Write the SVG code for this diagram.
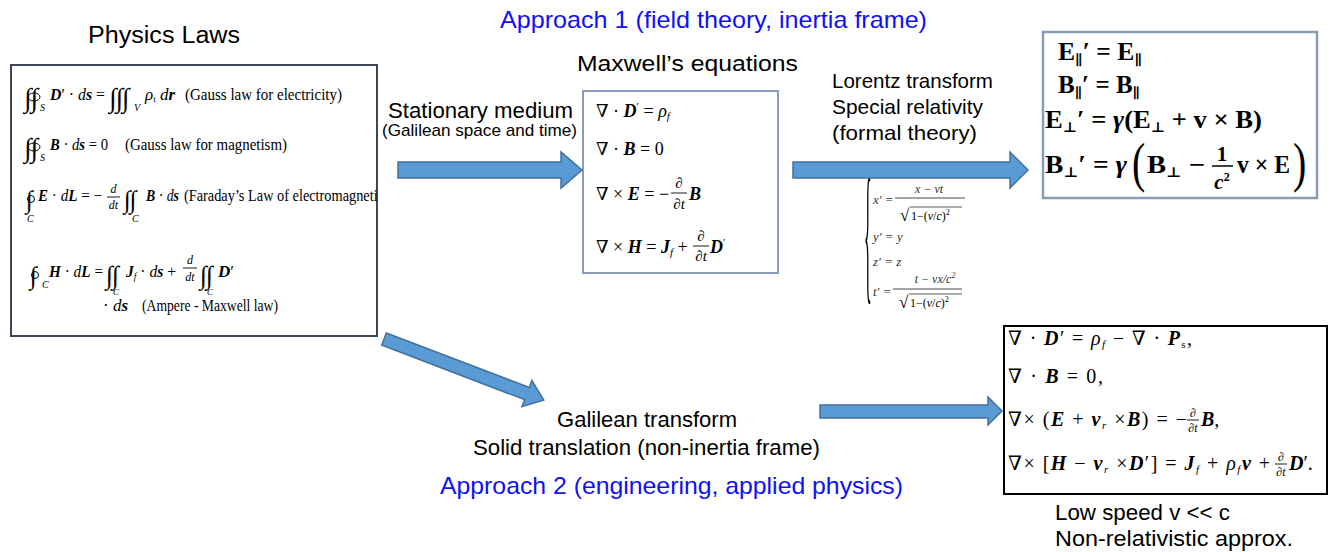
<svg xmlns="http://www.w3.org/2000/svg" width="1332" height="552" viewBox="0 0 1332 552">
<defs>
<style>
.lbl{font-family:"Liberation Sans",Arial,sans-serif;fill:#000}
.blue{fill:#1010f5}
.m{font-family:"Liberation Serif","Times New Roman","DejaVu Serif",serif;fill:#000}
.ig{font-family:"Liberation Serif","Times New Roman","DejaVu Serif",serif;fill:#000;font-style:italic;letter-spacing:-1px}
.ring{fill:none;stroke:#000;stroke-width:1}
.bi{font-weight:bold;font-style:italic}
.it{font-style:italic}
.b{font-weight:bold}
.arrow{fill:#5b9bd5;stroke:#41719c;stroke-width:1.5}
.bar{stroke:#000;stroke-width:0.9}
.lz{font-family:"Liberation Serif","DejaVu Serif",serif;fill:#333;font-style:italic}
</style>
<clipPath id="clipL"><rect x="12" y="66" width="365" height="270"/></clipPath>
</defs>
<rect width="1332" height="552" fill="#fff"/>

<text class="lbl blue" x="500" y="28" font-size="24" textLength="427" lengthAdjust="spacingAndGlyphs">Approach 1 (field theory, inertia frame)</text>
<text class="lbl blue" x="440" y="494" font-size="24" textLength="463" lengthAdjust="spacingAndGlyphs">Approach 2 (engineering, applied physics)</text>

<g id="physics-laws">
<text class="lbl" x="88" y="43" font-size="23" textLength="152" lengthAdjust="spacingAndGlyphs">Physics Laws</text>
<rect x="11" y="65" width="366" height="271" fill="#fff" stroke="#3d4655" stroke-width="2"/>
<g clip-path="url(#clipL)">
<text class="ig" x="24" y="107" font-size="27">∫∫</text>
<ellipse class="ring" cx="34" cy="97" rx="6" ry="4"/>
<text class="m it" x="40" y="111" font-size="10">S</text>
<text class="m" x="50" y="100" font-size="17" textLength="55" lengthAdjust="spacingAndGlyphs"><tspan class="bi">D</tspan>′ · <tspan class="it">d</tspan><tspan class="bi">s</tspan> =</text>
<text class="ig" x="109" y="107" font-size="27">∫∫∫</text>
<text class="m it" x="134" y="111" font-size="10">V</text>
<text class="m" x="145" y="100" font-size="17"><tspan class="it">ρ</tspan><tspan font-size="9" dy="2">t</tspan><tspan dy="-2"> </tspan><tspan class="it">d</tspan><tspan class="bi">r</tspan></text>
<text class="m" x="185" y="100" font-size="17" textLength="157" lengthAdjust="spacingAndGlyphs">(Gauss law for electricity)</text>

<text class="ig" x="24" y="157" font-size="27">∫∫</text>
<ellipse class="ring" cx="34" cy="147" rx="6" ry="4"/>
<text class="m it" x="40" y="161" font-size="10">S</text>
<text class="m" x="50" y="150" font-size="17" textLength="58" lengthAdjust="spacingAndGlyphs"><tspan class="bi">B</tspan> · <tspan class="it">d</tspan><tspan class="bi">s</tspan> = 0</text>
<text class="m" x="125" y="150" font-size="17" textLength="162" lengthAdjust="spacingAndGlyphs">(Gauss law for magnetism)</text>

<text class="ig" x="26" y="208" font-size="25">∫</text>
<circle class="ring" cx="31" cy="199" r="3.5"/>
<text class="m it" x="27" y="222" font-size="10">C</text>
<text class="m" x="38" y="201" font-size="17" textLength="64" lengthAdjust="spacingAndGlyphs"><tspan class="bi">E</tspan> · <tspan class="it">d</tspan><tspan class="bi">L</tspan> = −</text>
<text class="m it" x="113.5" y="193" font-size="12" text-anchor="middle">d</text>
<line class="bar" x1="107" y1="197" x2="120" y2="197"/>
<text class="m it" x="113.5" y="209" font-size="12" text-anchor="middle">dt</text>
<text class="ig" x="124" y="208" font-size="25">∫∫</text>
<text class="m it" x="132" y="222" font-size="10">C</text>
<text class="m" x="146" y="201" font-size="17" textLength="33" lengthAdjust="spacingAndGlyphs"><tspan class="bi">B</tspan> · <tspan class="it">d</tspan><tspan class="bi">s</tspan></text>
<text class="m" x="184" y="201" font-size="17" textLength="200" lengthAdjust="spacingAndGlyphs">(Faraday’s Law of electromagnetic</text>

<text class="ig" x="30" y="284" font-size="25">∫</text>
<circle class="ring" cx="35" cy="275" r="3.5"/>
<text class="m it" x="42" y="288" font-size="10">C</text>
<text class="m" x="49" y="277" font-size="17" textLength="54" lengthAdjust="spacingAndGlyphs"><tspan class="bi">H</tspan> · <tspan class="it">d</tspan><tspan class="bi">L</tspan> =</text>
<text class="ig" x="106" y="284" font-size="26">∫∫</text>
<text class="m it" x="113" y="295" font-size="9">C</text>
<text class="m" x="126" y="277" font-size="17" textLength="50" lengthAdjust="spacingAndGlyphs"><tspan class="bi">J</tspan><tspan class="it" font-size="10" dy="3">f</tspan><tspan dy="-3"> · </tspan><tspan class="it">d</tspan><tspan class="bi">s</tspan> +</text>
<text class="m it" x="190" y="264" font-size="12" text-anchor="middle">d</text>
<line class="bar" x1="183" y1="268" x2="197" y2="268"/>
<text class="m it" x="190" y="281" font-size="12" text-anchor="middle">dt</text>
<text class="ig" x="200" y="284" font-size="26">∫∫</text>
<text class="m it" x="207" y="295" font-size="9">C</text>
<text class="m" x="218" y="277" font-size="17"><tspan class="bi">D</tspan>′</text>

<text class="m" x="103" y="311" font-size="17">· <tspan class="it">d</tspan><tspan class="bi">s</tspan></text>
<text class="m" x="142" y="311" font-size="17" textLength="136" lengthAdjust="spacingAndGlyphs">(Ampere - Maxwell law)</text>
</g>
</g>

<g id="maxwell-equations">
<text class="lbl" x="577" y="71" font-size="22" textLength="221" lengthAdjust="spacingAndGlyphs">Maxwell’s equations</text>
<rect x="583" y="91" width="195" height="182" fill="#fff" stroke="#8a9cb8" stroke-width="2"/>
<text class="m" x="596" y="117" font-size="18">∇ · <tspan class="bi">D</tspan><tspan font-size="11" dy="-7">′</tspan><tspan dy="7"> = </tspan><tspan class="it">ρ</tspan><tspan class="it" font-size="11" dy="3">f</tspan></text>
<text class="m" x="596" y="155" font-size="18">∇ · <tspan class="bi">B</tspan> = 0</text>
<text class="m" x="596" y="200" font-size="18">∇ × <tspan class="bi">E</tspan> = −</text>
<text class="m" x="679" y="188" font-size="15" text-anchor="middle">∂</text>
<line class="bar" x1="671" y1="193" x2="687" y2="193"/>
<text class="m" x="679" y="209" font-size="15" text-anchor="middle">∂<tspan class="it">t</tspan></text>
<text class="m bi" x="689" y="200" font-size="18">B</text>
<text class="m" x="596" y="253" font-size="18">∇ × <tspan class="bi">H</tspan> = <tspan class="bi">J</tspan><tspan class="it" font-size="11" dy="3">f</tspan><tspan dy="-3"> +</tspan></text>
<text class="m" x="701" y="241" font-size="15" text-anchor="middle">∂</text>
<line class="bar" x1="693" y1="246" x2="709" y2="246"/>
<text class="m" x="701" y="261" font-size="15" text-anchor="middle">∂<tspan class="it">t</tspan></text>
<text class="m" x="710" y="253" font-size="18"><tspan class="bi">D</tspan><tspan font-size="11" dy="-7">′</tspan></text>
</g>

<g id="relativistic-fields">
<rect x="1043" y="32" width="274" height="166" fill="#fff" stroke="#8a9cb8" stroke-width="2.5"/>
<text class="m b" x="1058" y="60" font-size="25" textLength="84" lengthAdjust="spacingAndGlyphs">E<tspan font-size="14" dy="5">∥</tspan><tspan dy="-5">′ = E</tspan><tspan font-size="14" dy="5">∥</tspan></text>
<text class="m b" x="1058" y="93" font-size="25" textLength="82" lengthAdjust="spacingAndGlyphs">B<tspan font-size="14" dy="5">∥</tspan><tspan dy="-5">′ = B</tspan><tspan font-size="14" dy="5">∥</tspan></text>
<text class="m b" x="1045" y="128" font-size="25" textLength="217" lengthAdjust="spacingAndGlyphs">E<tspan font-size="14" dy="4">⊥</tspan><tspan dy="-4">′ = </tspan><tspan class="it">γ</tspan>(E<tspan font-size="14" dy="4">⊥</tspan><tspan dy="-4"> + v × B)</tspan></text>
<text class="m b" x="1045" y="173" font-size="25" textLength="82" lengthAdjust="spacingAndGlyphs">B<tspan font-size="14" dy="4">⊥</tspan><tspan dy="-4">′ = </tspan><tspan class="it">γ</tspan></text>
<text class="m" transform="translate(1132,181) scale(1,1.35)" font-size="40">(</text>
<text class="m b" x="1147" y="173" font-size="25" textLength="58" lengthAdjust="spacingAndGlyphs">B<tspan font-size="14" dy="4">⊥</tspan><tspan dy="-4"> −</tspan></text>
<text class="m b" x="1222" y="161" font-size="21" text-anchor="middle">1</text>
<line x1="1212" y1="166" x2="1233" y2="166" stroke="#000" stroke-width="1.5"/>
<text class="m b" x="1222" y="189" font-size="21" text-anchor="middle"><tspan class="it">c</tspan><tspan font-size="12" dy="-8">2</tspan></text>
<text class="m b" x="1237" y="173" font-size="25" textLength="53" lengthAdjust="spacingAndGlyphs">v × E</text>
<text class="m" transform="translate(1293,181) scale(1,1.35)" font-size="40">)</text>
</g>

<g id="lorentz-equations">
<text class="m" transform="translate(864,284) scale(1,9.6)" font-size="16" fill="#555">{</text>
<text class="lz" x="873" y="204" font-size="13">x′ =</text>
<text class="lz" x="929" y="193" font-size="12" text-anchor="middle">x − vt</text>
<line x1="895" y1="198" x2="965" y2="198" stroke="#333" stroke-width="0.9"/>
<text class="m" x="900" y="221" font-size="17" fill="#333">√</text>
<line x1="910" y1="207" x2="962" y2="207" stroke="#333" stroke-width="0.8"/>
<text class="m" x="911" y="220" font-size="12" fill="#333">1−(<tspan class="it">v</tspan>/<tspan class="it">c</tspan>)<tspan font-size="8" dy="-5">2</tspan></text>
<text class="lz" x="873" y="241" font-size="13">y′ = y</text>
<text class="lz" x="873" y="266" font-size="13">z′ = z</text>
<text class="lz" x="873" y="296" font-size="13">t′ =</text>
<text class="lz" x="935" y="283" font-size="12" text-anchor="middle">t − vx/c<tspan font-size="8" dy="-5">2</tspan></text>
<line x1="893" y1="289" x2="962" y2="289" stroke="#333" stroke-width="0.9"/>
<text class="m" x="899" y="308" font-size="17" fill="#333">√</text>
<line x1="909" y1="294" x2="962" y2="294" stroke="#333" stroke-width="0.8"/>
<text class="m" x="910" y="307" font-size="12" fill="#333">1−(<tspan class="it">v</tspan>/<tspan class="it">c</tspan>)<tspan font-size="8" dy="-5">2</tspan></text>
</g>

<g id="moving-medium-equations">
<rect x="1004" y="326" width="323" height="168" fill="#fff" stroke="#000" stroke-width="2"/>
<text class="m" x="1008" y="345" font-size="20" textLength="184" lengthAdjust="spacing">∇ · <tspan class="bi">D</tspan>′ = <tspan class="it">ρ</tspan><tspan class="it" font-size="11" dy="3">f</tspan><tspan dy="-3"> − ∇ · </tspan><tspan class="bi">P</tspan><tspan font-size="11" dy="3">s</tspan><tspan dy="-3">,</tspan></text>
<text class="m" x="1008" y="383" font-size="20" textLength="95" lengthAdjust="spacing">∇ · <tspan class="bi">B</tspan> = 0,</text>
<text class="m" x="1008" y="426" font-size="20" textLength="179" lengthAdjust="spacing">∇× (<tspan class="bi">E</tspan> + <tspan class="bi">v</tspan><tspan class="it" font-size="11" dy="3">r</tspan><tspan dy="-3"> ×</tspan><tspan class="bi">B</tspan>) = −</text>
<text class="m" x="1193" y="417" font-size="12" text-anchor="middle">∂</text>
<line class="bar" x1="1187" y1="420" x2="1199" y2="420" stroke-width="0.7"/>
<text class="m" x="1193" y="432" font-size="12" text-anchor="middle">∂<tspan class="it">t</tspan></text>
<text class="m" x="1201" y="426" font-size="20"><tspan class="bi">B</tspan>,</text>
<text class="m" x="1008" y="470" font-size="20" textLength="262" lengthAdjust="spacing">∇× [<tspan class="bi">H</tspan> − <tspan class="bi">v</tspan><tspan class="it" font-size="11" dy="3">r</tspan><tspan dy="-3"> ×</tspan><tspan class="bi">D</tspan>′] = <tspan class="bi">J</tspan><tspan class="it" font-size="11" dy="3">f</tspan><tspan dy="-3"> + </tspan><tspan class="it">ρ</tspan><tspan class="it" font-size="11" dy="3">f</tspan><tspan dy="-3" class="bi">v</tspan> +</text>
<text class="m" x="1281" y="461" font-size="12" text-anchor="middle">∂</text>
<line class="bar" x1="1275" y1="464" x2="1287" y2="464" stroke-width="0.7"/>
<text class="m" x="1281" y="476" font-size="12" text-anchor="middle">∂<tspan class="it">t</tspan></text>
<text class="m" x="1289" y="470" font-size="20"><tspan class="bi">D</tspan>′.</text>
<text class="lbl" x="1055" y="520" font-size="22" textLength="175" lengthAdjust="spacingAndGlyphs">Low speed v &lt;&lt; c</text>
<text class="lbl" x="1055" y="546" font-size="22" textLength="238" lengthAdjust="spacingAndGlyphs">Non-relativistic approx.</text>
</g>

<g id="connectors">
<polygon class="arrow" points="398,162 561,162 561,152 582,170 561,188 561,178 398,178"/>
<text class="lbl" x="388" y="118" font-size="22" textLength="185" lengthAdjust="spacingAndGlyphs">Stationary medium</text>
<text class="lbl" x="382" y="136" font-size="17" textLength="195" lengthAdjust="spacingAndGlyphs">(Galilean space and time)</text>

<polygon class="arrow" points="793,162 1010,162 1010,152 1028,170 1010,188 1010,178 793,178"/>
<text class="lbl" x="832" y="88" font-size="21" textLength="161" lengthAdjust="spacingAndGlyphs">Lorentz transform</text>
<text class="lbl" x="832" y="114" font-size="21" textLength="151" lengthAdjust="spacingAndGlyphs">Special relativity</text>
<text class="lbl" x="832" y="140" font-size="21" textLength="145" lengthAdjust="spacingAndGlyphs">(formal theory)</text>

<polygon class="arrow" transform="translate(384,339) rotate(20.9)" points="0,-6.5 153,-6.5 153,-14 171,0 153,14 153,6.5 0,6.5"/>
<text class="lbl" x="557" y="427" font-size="22" textLength="180" lengthAdjust="spacingAndGlyphs">Galilean transform</text>
<text class="lbl" x="473" y="455" font-size="22" textLength="347" lengthAdjust="spacingAndGlyphs">Solid translation (non-inertia frame)</text>

<polygon class="arrow" points="820,405 988,405 988,397 1002,411 988,425 988,418 820,418"/>
</g>
</svg>
